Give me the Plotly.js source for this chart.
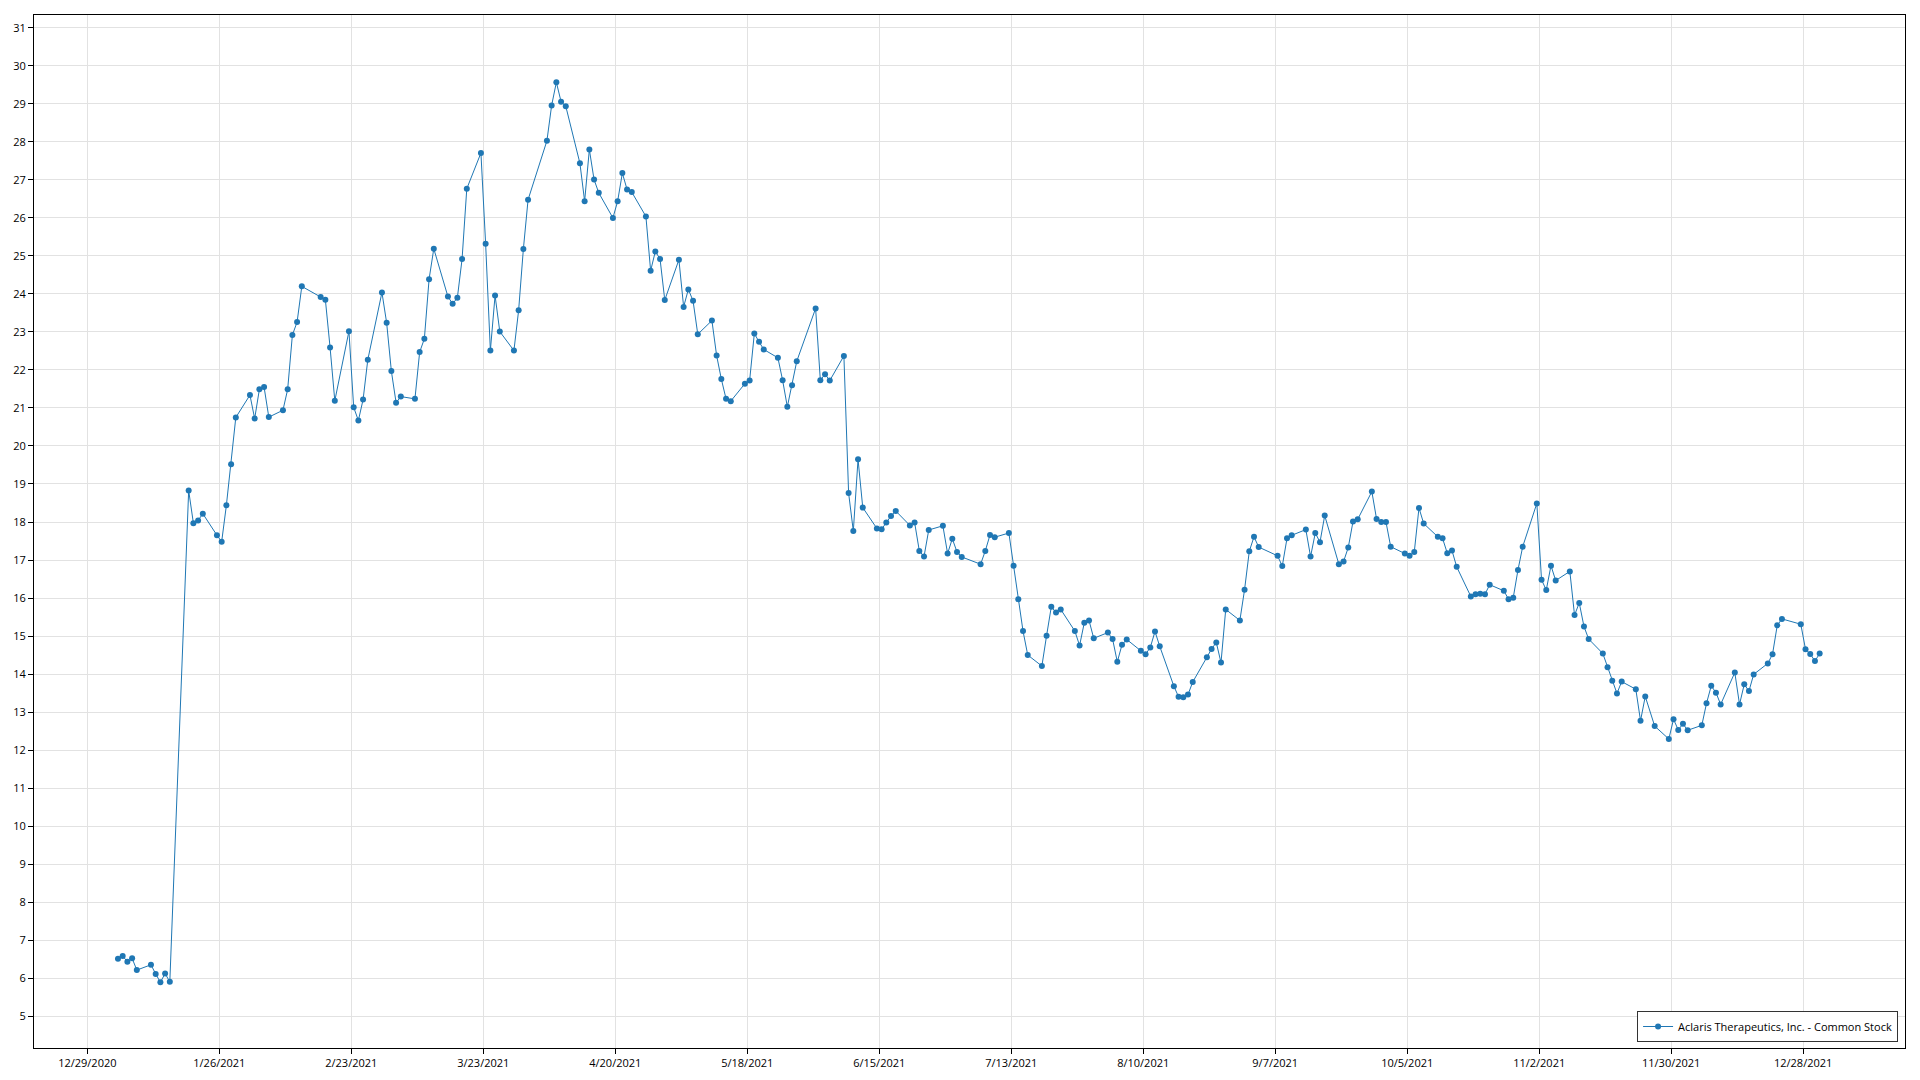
<!DOCTYPE html>
<html>
<head>
<meta charset="utf-8">
<script src="https://cdn.plot.ly/plotly-3.0.1.min.js"></script>
<style>html,body{margin:0;padding:0;background:#fff;}#chart{width:1920px;height:1080px;}</style>
</head>
<body>
<div id="chart"></div>
<script>
const seriesName = "Aclaris Therapeutics, Inc. - Common Stock";

const dates = [
"2021-01-04","2021-01-05","2021-01-06","2021-01-07","2021-01-08","2021-01-11","2021-01-12","2021-01-13","2021-01-14","2021-01-15",
"2021-01-19","2021-01-20","2021-01-21","2021-01-22","2021-01-25","2021-01-26","2021-01-27","2021-01-28","2021-01-29",
"2021-02-01","2021-02-02","2021-02-03","2021-02-04","2021-02-05","2021-02-08","2021-02-09","2021-02-10","2021-02-11","2021-02-12",
"2021-02-16","2021-02-17","2021-02-18","2021-02-19","2021-02-22","2021-02-23","2021-02-24","2021-02-25","2021-02-26",
"2021-03-01","2021-03-02","2021-03-03","2021-03-04","2021-03-05","2021-03-08","2021-03-09","2021-03-10","2021-03-11","2021-03-12",
"2021-03-15","2021-03-16","2021-03-17","2021-03-18","2021-03-19","2021-03-22","2021-03-23","2021-03-24","2021-03-25","2021-03-26",
"2021-03-29","2021-03-30","2021-03-31",
"2021-04-01","2021-04-05","2021-04-06","2021-04-07","2021-04-08","2021-04-09","2021-04-12","2021-04-13","2021-04-14","2021-04-15","2021-04-16",
"2021-04-19","2021-04-20","2021-04-21","2021-04-22","2021-04-23","2021-04-26","2021-04-27","2021-04-28","2021-04-29","2021-04-30",
"2021-05-03","2021-05-04","2021-05-05","2021-05-06","2021-05-07","2021-05-10","2021-05-11","2021-05-12","2021-05-13","2021-05-14",
"2021-05-17","2021-05-18","2021-05-19","2021-05-20","2021-05-21","2021-05-24","2021-05-25","2021-05-26","2021-05-27","2021-05-28",
"2021-06-01","2021-06-02","2021-06-03","2021-06-04","2021-06-07","2021-06-08","2021-06-09","2021-06-10","2021-06-11",
"2021-06-14","2021-06-15","2021-06-16","2021-06-17","2021-06-18","2021-06-21","2021-06-22","2021-06-23","2021-06-24","2021-06-25",
"2021-06-28","2021-06-29","2021-06-30",
"2021-07-01","2021-07-02","2021-07-06","2021-07-07","2021-07-08","2021-07-09","2021-07-12","2021-07-13","2021-07-14","2021-07-15","2021-07-16",
"2021-07-19","2021-07-20","2021-07-21","2021-07-22","2021-07-23","2021-07-26","2021-07-27","2021-07-28","2021-07-29","2021-07-30",
"2021-08-02","2021-08-03","2021-08-04","2021-08-05","2021-08-06","2021-08-09","2021-08-10","2021-08-11","2021-08-12","2021-08-13",
"2021-08-16","2021-08-17","2021-08-18","2021-08-19","2021-08-20","2021-08-23","2021-08-24","2021-08-25","2021-08-26","2021-08-27",
"2021-08-30","2021-08-31",
"2021-09-01","2021-09-02","2021-09-03","2021-09-07","2021-09-08","2021-09-09","2021-09-10","2021-09-13","2021-09-14","2021-09-15","2021-09-16","2021-09-17",
"2021-09-20","2021-09-21","2021-09-22","2021-09-23","2021-09-24","2021-09-27","2021-09-28","2021-09-29","2021-09-30",
"2021-10-01","2021-10-04","2021-10-05","2021-10-06","2021-10-07","2021-10-08","2021-10-11","2021-10-12","2021-10-13","2021-10-14","2021-10-15",
"2021-10-18","2021-10-19","2021-10-20","2021-10-21","2021-10-22","2021-10-25","2021-10-26","2021-10-27","2021-10-28","2021-10-29",
"2021-11-01","2021-11-02","2021-11-03","2021-11-04","2021-11-05","2021-11-08","2021-11-09","2021-11-10","2021-11-11","2021-11-12",
"2021-11-15","2021-11-16","2021-11-17","2021-11-18","2021-11-19","2021-11-22","2021-11-23","2021-11-24","2021-11-26","2021-11-29","2021-11-30",
"2021-12-01","2021-12-02","2021-12-03","2021-12-06","2021-12-07","2021-12-08","2021-12-09","2021-12-10","2021-12-13","2021-12-14","2021-12-15",
"2021-12-16","2021-12-17","2021-12-20","2021-12-21","2021-12-22","2021-12-23","2021-12-27","2021-12-28","2021-12-29","2021-12-30","2021-12-31"
];

const prices = [
6.51,6.58,6.43,6.52,6.21,6.35,6.11,5.89,6.12,5.90,
18.83,17.97,18.04,18.22,17.65,17.48,18.44,19.52,20.75,
21.34,20.72,21.49,21.55,20.76,20.94,21.49,22.92,23.26,24.20,
23.92,23.85,22.59,21.19,23.02,21.02,20.67,21.22,22.27,
24.04,23.24,21.97,21.14,21.30,21.24,22.47,22.82,24.39,25.19,
23.93,23.74,23.90,24.92,26.77,27.71,25.32,22.51,23.96,23.01,
22.51,23.57,25.18,
26.48,28.03,28.96,29.57,29.06,28.94,27.44,26.44,27.80,27.01,26.66,
26.00,26.44,27.18,26.75,26.68,26.04,24.61,25.12,24.92,23.84,
24.90,23.66,24.12,23.82,22.94,23.30,22.38,21.76,21.24,21.18,
21.64,21.72,22.96,22.74,22.54,22.32,21.73,21.03,21.60,22.23,
23.62,21.73,21.89,21.72,22.37,18.76,17.76,19.65,18.38,
17.83,17.81,17.99,18.16,18.29,17.91,17.99,17.24,17.09,17.79,
17.90,17.17,17.56,
17.21,17.08,16.89,17.24,17.66,17.60,17.71,16.85,15.97,15.13,14.50,
14.21,15.01,15.77,15.62,15.70,15.13,14.75,15.35,15.41,14.94,
15.09,14.92,14.32,14.77,14.91,14.61,14.52,14.70,15.12,14.73,
13.68,13.40,13.39,13.46,13.79,14.44,14.66,14.83,14.30,15.70,
15.41,16.22,
17.23,17.61,17.34,17.11,16.84,17.57,17.65,17.80,17.09,17.71,17.47,18.17,
16.89,16.96,17.33,18.01,18.07,18.80,18.08,18.00,18.00,
17.35,17.17,17.11,17.21,18.37,17.96,17.61,17.57,17.18,17.25,16.82,
16.04,16.10,16.11,16.10,16.35,16.19,15.97,16.01,16.74,17.35,
18.49,16.48,16.21,16.85,16.46,16.70,15.55,15.87,15.25,14.92,
14.54,14.18,13.82,13.49,13.80,13.60,12.77,13.41,12.63,12.29,12.81,
12.53,12.69,12.52,12.65,13.23,13.69,13.51,13.20,14.04,13.20,13.73,
13.55,13.99,14.28,14.52,15.28,15.45,15.31,14.65,14.53,14.34,14.54
];

const xTickVals = ["2020-12-29","2021-01-26","2021-02-23","2021-03-23","2021-04-20","2021-05-18","2021-06-15",
                   "2021-07-13","2021-08-10","2021-09-07","2021-10-05","2021-11-02","2021-11-30","2021-12-28"];
const xTickText = ["12/29/2020","1/26/2021","2/23/2021","3/23/2021","4/20/2021","5/18/2021","6/15/2021",
                   "7/13/2021","8/10/2021","9/7/2021","10/5/2021","11/2/2021","11/30/2021","12/28/2021"];
const yTickVals = [5,6,7,8,9,10,11,12,13,14,15,16,17,18,19,20,21,22,23,24,25,26,27,28,29,30,31];

const lineColor = "#1f77b4";
const font = "'Open Sans', 'Noto Sans', sans-serif";

const trace = {
  type: "scatter",
  mode: "lines+markers",
  name: seriesName,
  x: dates.map(d => d + " 12:00"),
  y: prices,
  line: {color: lineColor, width: 1},
  marker: {color: lineColor, size: 6, symbol: "circle"}
};

const layout = {
  width: 1920, height: 1080,
  margin: {l: 34, r: 15, t: 15, b: 32, pad: 0},
  paper_bgcolor: "#fff", plot_bgcolor: "#fff",
  font: {family: font, size: 11, color: "#000"},
  showlegend: true,
  legend: {
    x: 0.9963, y: 0.0058, xanchor: "right", yanchor: "bottom",
    bgcolor: "#fff", bordercolor: "#333", borderwidth: 1,
    itemwidth: 30,
    font: {family: font, size: 11, color: "#000"}
  },
  xaxis: {
    type: "date",
    range: ["2020-12-17 16:30", "2022-01-18 14:30"],
    tickmode: "array", tickvals: xTickVals, ticktext: xTickText,
    showgrid: true, gridcolor: "#e2e2e2", gridwidth: 1,
    showline: true, linecolor: "#000", linewidth: 1, mirror: true,
    ticks: "outside", ticklen: 5, tickcolor: "#000",
    zeroline: false, tickangle: 0,
    tickfont: {family: font, size: 11, color: "#000"}
  },
  yaxis: {
    range: [4.16, 31.34],
    tickmode: "array", tickvals: yTickVals,
    showgrid: true, gridcolor: "#e2e2e2", gridwidth: 1,
    showline: true, linecolor: "#000", linewidth: 1, mirror: true,
    ticks: "outside", ticklen: 5, tickcolor: "#000",
    zeroline: false,
    tickfont: {family: font, size: 11, color: "#000"}
  }
};

Plotly.newPlot("chart", [trace], layout, {displayModeBar: false, staticPlot: true});
</script>
</body>
</html>
